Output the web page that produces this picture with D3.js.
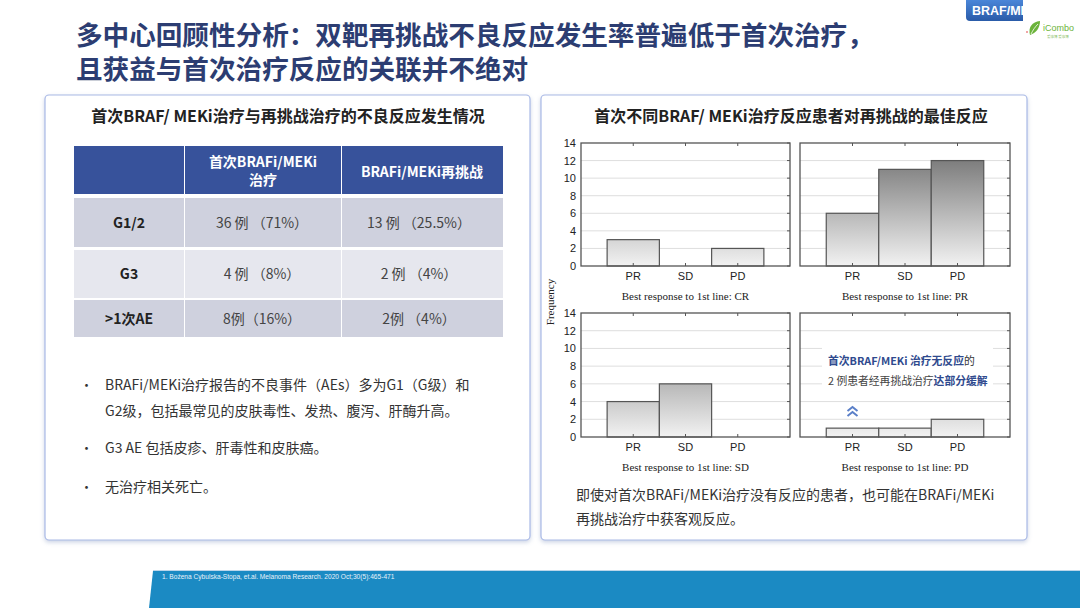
<!DOCTYPE html>
<html><head><meta charset="utf-8">
<script src="https://cdn.jsdelivr.net/npm/d3@7"></script>
<style>
html,body{margin:0;padding:0;background:#fff;}
svg{display:block;}
</style></head>
<body>
<svg id="c" width="1080" height="608"></svg>
<script>
// ---- data ----
const titleLines = ["多中心回顾性分析：双靶再挑战不良反应发生率普遍低于首次治疗，", "且获益与首次治疗反应的关联并不绝对"];
const tableHeader = [["首次BRAFi/MEKi", "治疗"], ["BRAFi/MEKi再挑战"]];
const tableRows = ["G1/2", "G3", ">1次AE"];
const firstTreatment = ["36 例 （71%）", "4 例 （8%）", "8例（16%）"];
const rechallenge = ["13 例 （25.5%）", "2 例 （4%）", "2例 （4%）"];
const bullets = [["BRAFi/MEKi治疗报告的不良事件（AEs）多为G1（G级）和", "G2级，包括最常见的皮肤毒性、发热、腹泻、肝酶升高。"], ["G3 AE 包括皮疹、肝毒性和皮肤癌。"], ["无治疗相关死亡。"]];
const responses = ["PR", "SD", "PD"];
const firstLine = ["CR", "PR", "SD", "PD"];
const countsCR = [3, 0, 2];
const countsPR = [6, 11, 12];
const countsSD = [4, 6, 0];
const countsPD = [1, 1, 2];
const yTicks = [0, 2, 4, 6, 8, 10, 12, 14];

const CJK = "'Noto Sans CJK SC','Noto Sans',sans-serif";
const svg = d3.select("#c");
const defs = svg.append("defs");
const f = defs.append("filter").attr("id","sh").attr("x","-5%").attr("y","-5%").attr("width","110%").attr("height","115%");
f.append("feDropShadow").attr("dx",0).attr("dy",2).attr("stdDeviation",2).attr("flood-color","#8fa0c8").attr("flood-opacity",0.45);

// ---- title ----
svg.selectAll("text.title").data(titleLines).join("text")
  .attr("x",76).attr("y",(d,i)=>45+i*34)
  .attr("font-family",CJK).attr("font-weight","bold").attr("font-size",26.6)
  .attr("fill","#2c3d72").text(d=>d);

// badge top-right
const bg = defs.append("linearGradient").attr("id","badge").attr("x1",0).attr("y1",0).attr("x2",0).attr("y2",1);
bg.append("stop").attr("offset",0).attr("stop-color","#4a86d8");
bg.append("stop").attr("offset",1).attr("stop-color","#2a5ba8");
defs.append("clipPath").attr("id","bclip").append("rect").attr("x",966).attr("y",0).attr("width",57).attr("height",24);
svg.append("path").attr("d","M966,0 H1023 V21 H970 Q966,21 966,17 Z").attr("fill","url(#badge)");
svg.append("text").attr("x",972).attr("y",15).attr("clip-path","url(#bclip)")
  .attr("font-family","'Liberation Sans',Arial,sans-serif").attr("font-weight","bold").attr("font-size",12.5)
  .attr("fill","#fff").text("BRAF/MEK");
// logo
svg.append("path").attr("d","M1030,35 C1028,27 1032,22 1040,21 C1040,28 1036,33 1030,35 Z").attr("fill","#6bb33a");
svg.append("path").attr("d","M1031,34 C1033,30 1035,27 1038,24").attr("stroke","#fff").attr("stroke-width",0.8).attr("fill","none");
svg.append("text").attr("x",1043).attr("y",31).attr("font-family","'Liberation Sans',Arial,sans-serif").attr("font-size",9).attr("fill","#6bb33a").text("iCombo");
svg.append("text").attr("x",1047).attr("y",38).attr("font-family",CJK).attr("font-size",3.5).attr("fill","#8cc26a").text("爱康博 爱康博");
svg.append("circle").attr("cx",1027).attr("cy",32).attr("r",0.8).attr("fill","#d33");

// ---- cards ----
svg.append("rect").attr("x",45).attr("y",95).attr("width",485).attr("height",445).attr("rx",4)
  .attr("fill","#fff").attr("stroke","#a9b9e6").attr("stroke-width",1.2).attr("filter","url(#sh)");
svg.append("rect").attr("x",541).attr("y",95).attr("width",486).attr("height",445).attr("rx",4)
  .attr("fill","#fff").attr("stroke","#a9b9e6").attr("stroke-width",1.2).attr("filter","url(#sh)");

svg.append("text").attr("x",288).attr("y",122).attr("text-anchor","middle")
  .attr("font-family",CJK).attr("font-weight","bold").attr("font-size",16).attr("fill","#222")
  .text("首次BRAF/ MEKi治疗与再挑战治疗的不良反应发生情况");
svg.append("text").attr("x",791).attr("y",122).attr("text-anchor","middle")
  .attr("font-family",CJK).attr("font-weight","bold").attr("font-size",16).attr("fill","#222")
  .text("首次不同BRAF/ MEKi治疗反应患者对再挑战的最佳反应");

// ---- table ----
const colX = [74, 185, 342, 503];
const hdr = svg.append("g");
[0,1,2].forEach(i=>{
  hdr.append("rect").attr("x",colX[i]).attr("y",146).attr("width",colX[i+1]-colX[i]-(i<2?1:0)).attr("height",48).attr("fill","#37529b");
});
hdr.append("text").attr("x",263).attr("text-anchor","middle").attr("font-family",CJK).attr("font-weight","bold")
  .attr("font-size",14).attr("fill","#fff")
  .selectAll("tspan").data(tableHeader[0]).join("tspan").attr("x",263).attr("y",(d,i)=>167+i*18).text(d=>d);
hdr.append("text").attr("x",422).attr("y",177).attr("text-anchor","middle").attr("font-family",CJK).attr("font-weight","bold")
  .attr("font-size",14).attr("fill","#fff").text(tableHeader[1][0]);
const rowY = [[198,49],[250,48],[300,37]];
const rowFill = ["#cfd1de","#e6e7ee","#cfd1de"];
tableRows.forEach((r,i)=>{
  const [y,h]=rowY[i];
  [0,1,2].forEach(j=>{
    svg.append("rect").attr("x",colX[j]).attr("y",y).attr("width",colX[j+1]-colX[j]-(j<2?1:0)).attr("height",h).attr("fill",rowFill[i]);
  });
  const cy = y+h/2+5;
  svg.append("text").attr("x",129).attr("y",cy).attr("text-anchor","middle").attr("font-family",CJK).attr("font-weight","bold").attr("font-size",14).attr("fill","#222").text(r);
  svg.append("text").attr("x",262).attr("y",cy).attr("text-anchor","middle").attr("font-family",CJK).attr("font-size",14).attr("fill","#444").text(firstTreatment[i]);
  svg.append("text").attr("x",419).attr("y",cy).attr("text-anchor","middle").attr("font-family",CJK).attr("font-size",14).attr("fill","#444").text(rechallenge[i]);
});

// ---- bullets ----
const bulletY = [[390,416],[453],[492]];
bullets.forEach((b,i)=>{
  svg.append("text").attr("x",80).attr("y",bulletY[i][0]).attr("font-family",CJK).attr("font-size",13).attr("fill","#333").text("•");
  b.forEach((line,k)=>{
    svg.append("text").attr("x",105).attr("y",bulletY[i][k]).attr("font-family",CJK).attr("font-size",14).attr("fill","#333").text(line);
  });
});

// ---- charts ----
const panels = [
  {x:581, y:143, w:209, h:123, counts:countsCR, label:firstLine[0]},
  {x:800, y:143, w:210, h:123, counts:countsPR, label:firstLine[1]},
  {x:581, y:313, w:209, h:124, counts:countsSD, label:firstLine[2]},
  {x:800, y:313, w:210, h:124, counts:countsPD, label:firstLine[3]},
];
panels.forEach((p,pi)=>{
  const g = svg.append("g").attr("transform",`translate(${p.x},${p.y})`);
  const x = d3.scaleBand().domain(responses).range([0,p.w]).paddingInner(0).paddingOuter(0.5);
  const y = d3.scaleLinear().domain([0,14]).range([p.h,0]);
  const gid = "bg"+pi;
  const lg = defs.append("linearGradient").attr("id",gid).attr("gradientUnits","userSpaceOnUse")
    .attr("x1",0).attr("y1",0).attr("x2",0).attr("y2",p.h);
  lg.append("stop").attr("offset",0).attr("stop-color","#6a6a6a");
  lg.append("stop").attr("offset",1).attr("stop-color","#f2f2f2");
  // grid
  g.selectAll("line.grid").data(yTicks.slice(1,-1)).join("line")
    .attr("x1",0).attr("x2",p.w).attr("y1",d=>y(d)).attr("y2",d=>y(d))
    .attr("stroke","#dedede").attr("stroke-width",1);
  // bars
  g.selectAll("rect.bar").data(responses.map((r,i)=>({r,v:p.counts[i]})).filter(d=>d.v>0)).join("rect")
    .attr("x",d=>x(d.r)).attr("width",x.bandwidth()).attr("y",d=>y(d.v)).attr("height",d=>p.h-y(d.v))
    .attr("fill","url(#"+gid+")")
    .attr("stroke","#555").attr("stroke-width",1.2);
  // frame
  g.append("rect").attr("x",0).attr("y",0).attr("width",p.w).attr("height",p.h).attr("fill","none").attr("stroke","#555").attr("stroke-width",1.3);
  // top ticks & bottom ticks
  responses.forEach(r=>{
    const cx = x(r)+x.bandwidth()/2;
    g.append("line").attr("x1",cx).attr("x2",cx).attr("y1",0).attr("y2",3).attr("stroke","#555");
    g.append("line").attr("x1",cx).attr("x2",cx).attr("y1",p.h).attr("y2",p.h-3).attr("stroke","#555");
  });
  yTicks.forEach(t=>{
    g.append("line").attr("x1",p.w).attr("x2",p.w-3).attr("y1",y(t)).attr("y2",y(t)).attr("stroke","#555");
  });
  // axes
  const xa = g.append("g").attr("transform",`translate(0,${p.h})`).call(d3.axisBottom(x).tickSize(0).tickPadding(6));
  xa.select(".domain").remove();
  xa.selectAll("text").attr("font-family","'Liberation Sans',Arial,sans-serif").attr("font-size",11).attr("fill","#222");
  if (pi%2===0){
    const ya = g.append("g").call(d3.axisLeft(y).tickValues(yTicks).tickSize(0).tickPadding(5));
    ya.select(".domain").remove();
    ya.selectAll("text").attr("font-family","'Liberation Sans',Arial,sans-serif").attr("font-size",11).attr("fill","#222");
  }
  g.append("text").attr("x",p.w/2).attr("y",p.h+34).attr("text-anchor","middle")
    .attr("font-family","'Liberation Serif','Times New Roman',serif").attr("font-size",11).attr("fill","#222")
    .text("Best response to  1st line: "+p.label);
  if (pi===3){
    g.append("rect").attr("x",22).attr("y",26).attr("width",171).attr("height",54).attr("fill","#fff");
    const t1 = g.append("text").attr("x",28).attr("y",52).attr("font-family",CJK).attr("font-size",10.8);
    t1.append("tspan").attr("fill","#2f4a8e").attr("font-weight","bold").text("首次BRAF/MEKi  治疗无反应");
    t1.append("tspan").attr("fill","#333").text("的");
    const t2 = g.append("text").attr("x",28).attr("y",72).attr("font-family",CJK).attr("font-size",10.8);
    t2.append("tspan").attr("fill","#444").text("2 例患者经再挑战治疗");
    t2.append("tspan").attr("fill","#2f4a8e").attr("font-weight","bold").text("达部分缓解");
    const cx = x("PR")+x.bandwidth()/2;
    [0,5].forEach(o=>{
      g.append("path").attr("d",`M${cx-5},${98+o} L${cx},${94+o} L${cx+5},${98+o}`)
        .attr("fill","none").attr("stroke","#5a7fc8").attr("stroke-width",2);
    });
  }
});
svg.append("text").attr("transform","translate(554,302) rotate(-90)").attr("text-anchor","middle")
  .attr("font-family","'Liberation Serif','Times New Roman',serif").attr("font-size",11).attr("fill","#222").text("Frequency");

// caption
svg.append("text").attr("x",576).attr("y",500).attr("font-family",CJK).attr("font-size",14).attr("fill","#333")
  .text("即使对首次BRAFi/MEKi治疗没有反应的患者，也可能在BRAFi/MEKi");
svg.append("text").attr("x",576).attr("y",524).attr("font-family",CJK).attr("font-size",14).attr("fill","#333")
  .text("再挑战治疗中获客观反应。");

// ---- footer ----
svg.append("path").attr("d","M153,571 L1080,571 L1080,608 L149,608 Z").attr("fill","#1b8ac3");
svg.append("line").attr("x1",153).attr("x2",1080).attr("y1",570.5).attr("y2",570.5).attr("stroke","#bcd6ea").attr("stroke-width",1);
svg.append("text").attr("x",162).attr("y",578.5).attr("font-family","'Liberation Sans',Arial,sans-serif").attr("font-size",6.6).attr("fill","#e8f2fa")
  .text("1.  Bożena  Cybulska-Stopa,   et.al.  Melanoma  Research.  2020  Oct;30(5):465-471");
</script>
</body></html>
